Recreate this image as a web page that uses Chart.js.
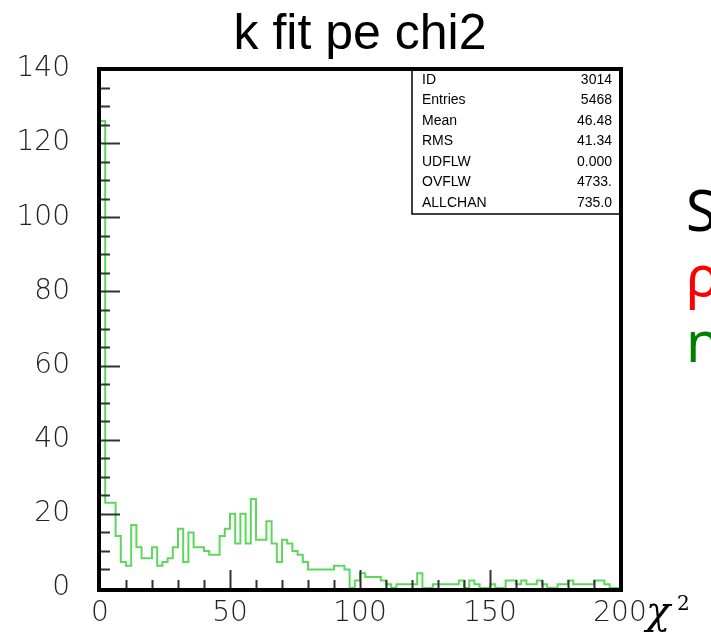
<!DOCTYPE html>
<html>
<head>
<meta charset="utf-8">
<script src="https://cdn.jsdelivr.net/npm/chart.js@4.4.0/dist/chart.umd.min.js"></script>
<style>
  body { margin: 0; background: #fff; }
  #wrap { width: 711px; height: 638px; }
</style>
</head>
<body>
<div id="wrap"><canvas id="mychart" width="711" height="638"></canvas></div>
<script>
// histogram "k fit pe chi2": 100 bins of width 2 from 0 to 200
var xMin = 0
var xMax = 200
var binWidth = 2
var counts = [126, 23, 23, 14, 7, 6, 17, 11, 8, 8,
              11, 6, 7, 8, 11, 16, 7, 15, 11, 11,
              10, 9, 9, 14, 16, 20, 12, 20, 12, 24,
              13, 13, 18, 12, 7, 13, 12, 10, 9, 7,
              5, 5, 5, 5, 5, 6, 6, 5, 0, 2,
              4, 3, 3, 3, 2, 1, 0, 1, 1, 1,
              1, 4, 0, 0, 1, 1, 1, 1, 1, 2,
              0, 2, 1, 0, 0, 1, 0, 0, 2, 2,
              1, 2, 1, 1, 2, 1, 0, 0, 1, 1,
              2, 1, 1, 1, 1, 2, 2, 1, 0, 0]
var yTicks = [0, 20, 40, 60, 80, 100, 120, 140]
var xTicks = [0, 50, 100, 150, 200]
var statLabels = ["ID", "Entries", "Mean", "RMS", "UDFLW", "OVFLW", "ALLCHAN"]
var statValues = ["3014", "5468", "46.48", "41.34", "0.000", "4733.", "735.0"]
var sideWords = ["S", "ρ", "n"]
var sideColors = ["#000000", "#ff0000", "#008000"]

// outline points: horizontal across each bin, then vertical to the next one
var pts = [{x: xMin, y: 0}]
for (var i = 0; i < counts.length; i++) {
    pts.push({x: xMin + i * binWidth, y: counts[i]})
}
pts.push({x: xMax, y: counts[counts.length - 1]})
pts.push({x: xMax, y: 0})

var decor = {
    id: "decor",
    afterDatasetsDraw: function(chart) {
        var ctx = chart.ctx
        var a = chart.chartArea
        var xs = chart.scales.x
        var ys = chart.scales.y
        ctx.save()
        // inward ticks
        ctx.strokeStyle = "#333"
        ctx.lineWidth = 2
        ctx.beginPath()
        for (var v = 5; v < 140; v += 5) {
            var py = Math.round(ys.getPixelForValue(v)) + 0.5
            var len = (v % 20 == 0) ? 20 : 10
            ctx.moveTo(a.left, py)
            ctx.lineTo(a.left + len, py)
        }
        for (var u = 10; u < 200; u += 10) {
            var px = Math.round(xs.getPixelForValue(u)) + 0.5
            var l2 = (u % 50 == 0) ? 18 : 8
            ctx.moveTo(px, a.bottom)
            ctx.lineTo(px, a.bottom - l2)
        }
        ctx.stroke()

        // stats box
        var bx = 412, by = a.top, bw = a.right - bx, bh = 145
        ctx.fillStyle = "#fff"
        ctx.fillRect(bx, by, bw, bh)
        ctx.strokeStyle = "#000"
        ctx.lineWidth = 1.5
        ctx.strokeRect(bx, by, bw, bh)
        ctx.fillStyle = "#000"
        ctx.font = "14px 'Liberation Sans', Arial, sans-serif"
        ctx.textBaseline = "middle"
        for (var k = 0; k < statLabels.length; k++) {
            var ry = by + 11 + k * 20.5
            ctx.textAlign = "left"
            ctx.fillText(statLabels[k], bx + 10, ry)
            ctx.textAlign = "right"
            ctx.fillText(statValues[k], a.right - 8, ry)
        }

        // frame
        ctx.strokeStyle = "#000"
        ctx.lineWidth = 4
        ctx.strokeRect(a.left - 1, a.top, a.right - a.left + 2, a.bottom - a.top + 2)
        ctx.restore()
    },
    afterDraw: function(chart) {
        var ctx = chart.ctx
        ctx.save()
        ctx.textAlign = "left"
        ctx.textBaseline = "alphabetic"
        ctx.font = "56px 'Noto Sans', sans-serif"
        var base = [231, 296, 362]
        for (var i = 0; i < sideWords.length; i++) {
            ctx.fillStyle = sideColors[i]
            ctx.fillText(sideWords[i], 686, base[i])
        }
        ctx.fillStyle = "#000"
        ctx.font = "italic 40px 'DejaVu Serif', serif"
        ctx.fillText("χ", 646, 624)
        ctx.font = "20px 'DejaVu Serif', serif"
        ctx.fillText("2", 677, 610)
        ctx.restore()
    }
}

var tickFont = {family: "'DejaVu Sans', sans-serif", size: 28, weight: 200}

var mychart = document.getElementById("mychart").getContext("2d")
var chart = new Chart(mychart, {
    type: "line",
    data: {
        datasets: [{
            label: "k fit pe chi2",
            data: pts,
            stepped: "before",
            borderColor: "rgb(95,215,95)",
            borderWidth: 2,
            pointRadius: 0,
            fill: false
        }]
    },
    options: {
        responsive: false,
        animation: false,
        layout: {padding: {left: 0, right: 91, top: 0, bottom: 0}},
        plugins: {
            legend: {display: false},
            tooltip: {enabled: false},
            title: {
                display: true,
                text: "k fit pe chi2",
                fullSize: false,
                color: "#000",
                font: {family: "'Liberation Sans', Arial, sans-serif", size: 50, weight: "normal"},
                padding: {top: 5, bottom: 4}
            }
        },
        scales: {
            x: {
                type: "linear",
                min: xMin,
                max: xMax,
                grid: {display: false, drawTicks: false},
                border: {display: false},
                afterFit: function(s) { s.height = 50 },
                afterBuildTicks: function(s) { s.ticks = xTicks.map(function(v){ return {value: v} }) },
                ticks: {color: "#222", font: tickFont, padding: 9, maxRotation: 0}
            },
            y: {
                min: 0,
                max: 140,
                grid: {display: false, drawTicks: false},
                border: {display: false},
                afterFit: function(s) { s.width = 100 },
                afterBuildTicks: function(s) { s.ticks = yTicks.map(function(v){ return {value: v} }) },
                ticks: {color: "#222", font: tickFont, padding: 30}
            }
        }
    },
    plugins: [decor]
})
</script>
</body>
</html>
